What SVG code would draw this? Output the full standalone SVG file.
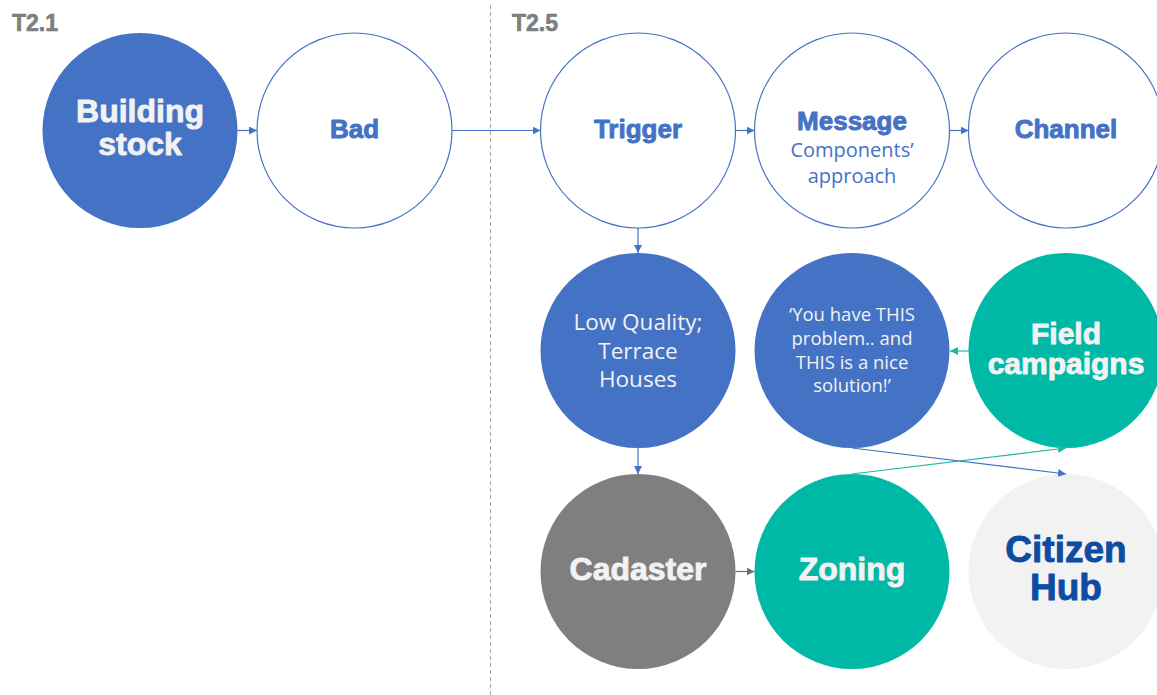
<svg xmlns="http://www.w3.org/2000/svg" width="1157" height="695" viewBox="0 0 1157 695">
<defs>
<marker id="ab" viewBox="0 0 10 10" refX="10" refY="5" markerWidth="8" markerHeight="8" markerUnits="userSpaceOnUse" orient="auto"><path d="M0,0 L10,5 L0,10 z" fill="#4472C4"/></marker>
<marker id="at" viewBox="0 0 10 10" refX="10" refY="5" markerWidth="8" markerHeight="8" markerUnits="userSpaceOnUse" orient="auto"><path d="M0,0 L10,5 L0,10 z" fill="#1DB9A6"/></marker>
<marker id="ag" viewBox="0 0 10 10" refX="10" refY="5" markerWidth="8" markerHeight="8" markerUnits="userSpaceOnUse" orient="auto"><path d="M0,0 L10,5 L0,10 z" fill="#6E6E6E"/></marker>
</defs>
<style>
.b{font-family:"Liberation Sans",Arial,sans-serif;font-weight:bold;text-anchor:middle;stroke-width:0.9;stroke-linejoin:round}
.l{font-family:"Open Sans","Noto Sans",sans-serif;font-weight:400;text-anchor:middle}
.hdr{font-family:"Liberation Sans",Arial,sans-serif;font-weight:bold;font-size:23px;fill:#7F7F7F;stroke:#7F7F7F;stroke-width:0.7}
.blue{fill:#4472C4}
.outline{fill:#FFFFFF;stroke:#4472C4;stroke-width:1.2}
.teal{fill:#00B8A6}
.cb{stroke:#4472C4;stroke-width:1.2;fill:none;marker-end:url(#ab)}
.ct{stroke:#1DB9A6;stroke-width:1.2;fill:none;marker-end:url(#at)}
.cg{stroke:#6E6E6E;stroke-width:1.2;fill:none;marker-end:url(#ag)}
.w{fill:#F2F2F2}
.b.w{stroke:#F2F2F2}
.bt{fill:#4472C4}
.b.bt{stroke:#4472C4}
.l.w,.l.bt{stroke:none}
.hub{fill:#0D4DA1;stroke:#0D4DA1}
</style>
<rect width="1157" height="695" fill="#FFFFFF"/>
<line x1="490.5" y1="5" x2="490.5" y2="695" stroke="#A6A6A6" stroke-width="1" stroke-dasharray="4,3"/>
<text class="hdr" x="12" y="31">T2.1</text>
<text class="hdr" x="512" y="31">T2.5</text>

<g id="building-stock"><circle class="blue" cx="140" cy="130.5" r="97.5"/><text class="b w" font-size="32" x="140" y="122">Building</text><text class="b w" font-size="32" x="140" y="155">stock</text></g>
<g id="bad"><circle class="outline" cx="354.5" cy="130.5" r="97.5"/><text class="b bt" font-size="26" x="354.5" y="138">Bad</text></g>
<g id="trigger"><circle class="outline" cx="638" cy="130.5" r="97.5"/><text class="b bt" font-size="26" x="638" y="138">Trigger</text></g>
<g id="message"><circle class="outline" cx="852" cy="130.5" r="97.5"/><text class="b bt" font-size="26" x="852" y="130">Message</text><text class="l bt" font-size="20" x="852" y="157">Components’</text><text class="l bt" font-size="20" x="852" y="182.5">approach</text></g>
<g id="channel"><circle class="outline" cx="1066" cy="130.5" r="97.5"/><text class="b bt" font-size="26" x="1066" y="138">Channel</text></g>

<g id="low-quality"><circle class="blue" cx="638" cy="350.5" r="97.5"/><text class="l w" font-size="22.5" x="638" y="330">Low Quality;</text><text class="l w" font-size="22.5" x="638" y="358.5">Terrace</text><text class="l w" font-size="22.5" x="638" y="387">Houses</text></g>
<g id="you-have"><circle class="blue" cx="852" cy="350.5" r="97.5"/><text class="l w" font-size="18.5" x="852" y="321">‘You have THIS</text><text class="l w" font-size="18.5" x="852" y="345">problem.. and</text><text class="l w" font-size="18.5" x="852" y="369">THIS is a nice</text><text class="l w" font-size="18.5" x="852" y="392">solution!’</text></g>
<g id="field-campaigns"><circle class="teal" cx="1066" cy="350.5" r="97.5"/><text class="b w" font-size="30" x="1066" y="344">Field</text><text class="b w" font-size="30" x="1066" y="374">campaigns</text></g>

<g id="cadaster"><circle fill="#7F7F7F" cx="638" cy="571.5" r="97.5"/><text class="b w" font-size="32" x="638" y="580">Cadaster</text></g>
<g id="zoning"><circle class="teal" cx="852" cy="571.5" r="97.5"/><text class="b w" font-size="32" x="852" y="580">Zoning</text></g>
<g id="citizen-hub"><circle fill="#F2F2F2" cx="1066" cy="571.5" r="97.5"/><text class="b hub" font-size="37" x="1066" y="562">Citizen</text><text class="b hub" font-size="37" x="1066" y="600">Hub</text></g>

<g id="connectors">
<line class="cb" x1="237.5" y1="130.5" x2="257" y2="130.5"/>
<line class="cb" x1="452" y1="130.5" x2="540.5" y2="130.5"/>
<line class="cb" x1="735.5" y1="130.5" x2="754.5" y2="130.5"/>
<line class="cb" x1="949.5" y1="130.5" x2="968.5" y2="130.5"/>
<line class="cb" x1="638" y1="228" x2="638" y2="253"/>
<line class="cb" x1="638" y1="448" x2="638" y2="474"/>
<line class="cg" x1="735.5" y1="571.5" x2="754.5" y2="571.5"/>
<line class="ct" x1="970" y1="351" x2="950" y2="351"/>
<line class="cb" x1="852" y1="448" x2="1066" y2="474"/>
<line class="ct" x1="852" y1="474" x2="1066" y2="448"/>
</g>
</svg>
